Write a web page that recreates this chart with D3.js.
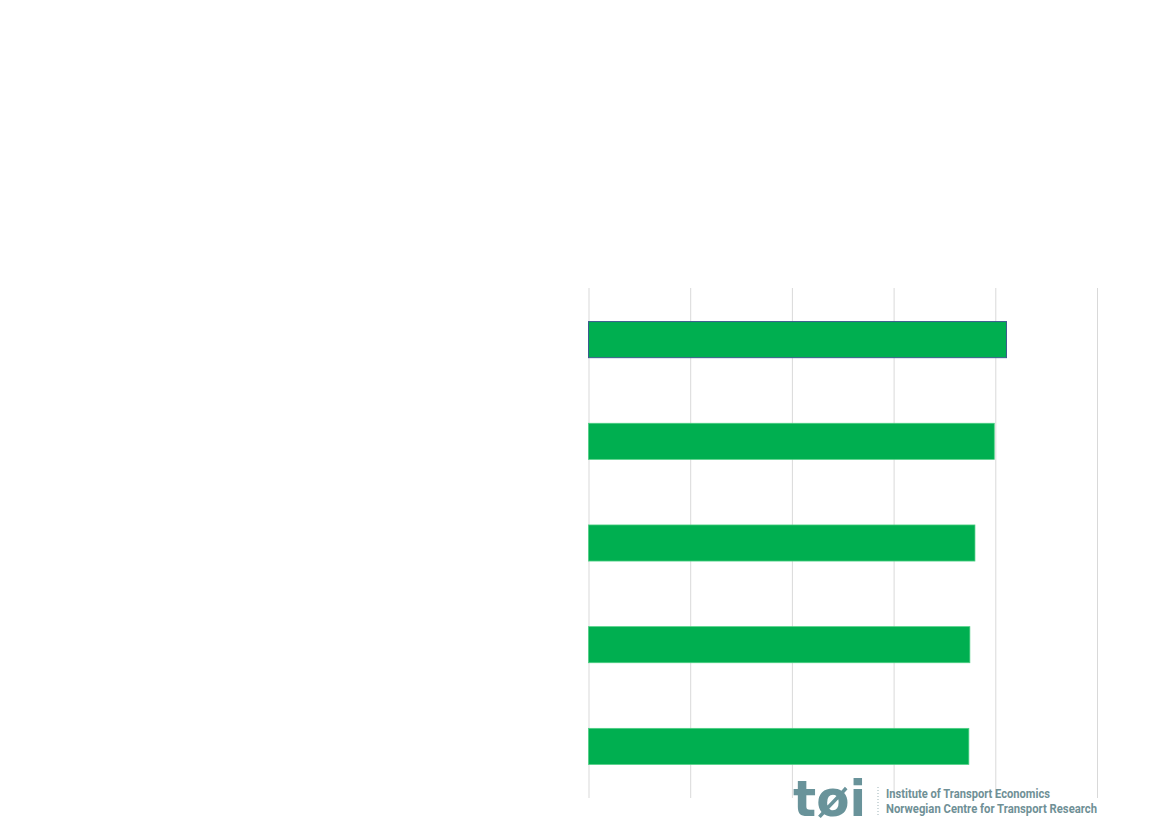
<!DOCTYPE html>
<html>
<head>
<meta charset="utf-8">
<script src="https://cdn.jsdelivr.net/npm/d3@7"></script>
<style>
  body { margin: 0; background: #fff; }
  svg { display: block; }
</style>
</head>
<body>
<svg></svg>
<script>
// chart values
var categories = ["A", "B", "C", "D", "E"];
var values = [4.11, 3.99, 3.80, 3.75, 3.74];
var xTicks = [0, 1, 2, 3, 4, 5];

var svg_width = 1169;
var svg_height = 827;
var margin = { top: 288, right: 71, bottom: 29, left: 588.5 };
var width = svg_width - margin.left - margin.right;
var height = svg_height - margin.top - margin.bottom;

var svg = d3.select("svg")
  .attr("width", svg_width)
  .attr("height", svg_height);

var group = svg.append("g")
  .attr("transform", "translate(" + margin.left + "," + margin.top + ")");

var x = d3.scaleLinear().domain([0, 5]).range([0, 508.5]);
var y = d3.scaleBand().domain(categories).range([0, height]).paddingInner(0.645).paddingOuter(0.33);

// vertical gridlines
group.append("g")
  .attr("class", "grid")
  .call(d3.axisBottom(x).tickValues(xTicks).tickSize(height).tickFormat(""))
  .call(function(g) { g.select(".domain").remove(); })
  .selectAll("line")
  .attr("stroke", "#d9d9d9")
  .attr("stroke-width", 1);

group.selectAll("rect.bar")
  .data(values)
  .enter().append("rect")
  .attr("class", "bar")
  .attr("x", x(0))
  .attr("y", function(d, i) { return y(categories[i]); })
  .attr("width", function(d) { return x(d) - x(0); })
  .attr("height", y.bandwidth())
  .attr("fill", "#00af50")
  .attr("stroke", function(d, i) { return i === 0 ? "#3c5c8e" : "#4fd084"; })
  .attr("stroke-width", function(d, i) { return i === 0 ? 1 : 0.75; });

// logo
var logo = svg.append("g").attr("transform", "translate(793,817)");
logo.append("text")
  .attr("x", 0)
  .attr("y", -1)
  .attr("font-family", "DejaVu Sans")
  .attr("font-weight", 700)
  .attr("font-size", 50)
  .attr("fill", "#69939a")
  .attr("textLength", 73)
  .attr("lengthAdjust", "spacingAndGlyphs")
  .text("tøi");

logo.append("line")
  .attr("x1", 85).attr("x2", 85)
  .attr("y1", -30).attr("y2", 0)
  .attr("stroke", "#9db3b7")
  .attr("stroke-width", 1)
  .attr("stroke-dasharray", "1,2");

logo.append("text")
  .attr("x", 93)
  .attr("y", -19)
  .attr("font-family", "Roboto")
  .attr("font-weight", 700)
  .attr("font-size", 12)
  .attr("fill", "#6f9096")
  .attr("textLength", 164)
  .attr("lengthAdjust", "spacingAndGlyphs")
  .text("Institute of Transport Economics");

logo.append("text")
  .attr("x", 93)
  .attr("y", -4)
  .attr("font-family", "Roboto")
  .attr("font-weight", 700)
  .attr("font-size", 12)
  .attr("fill", "#6f9096")
  .attr("textLength", 211)
  .attr("lengthAdjust", "spacingAndGlyphs")
  .text("Norwegian Centre for Transport Research");
</script>
</body>
</html>
